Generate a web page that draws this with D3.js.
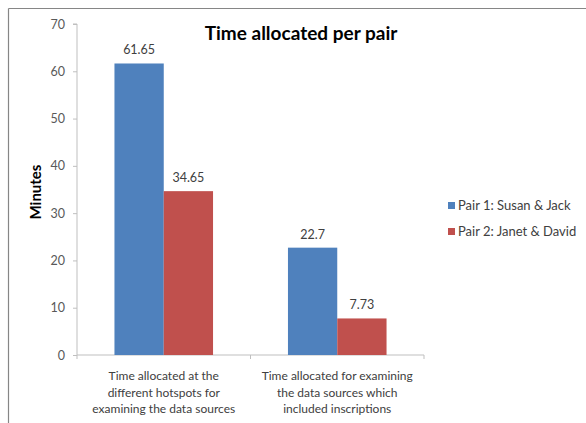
<!DOCTYPE html>
<html><head><meta charset="utf-8">
<script src="https://cdn.jsdelivr.net/npm/d3@7"></script>
<style>
body{margin:0;background:#fff;}
text{font-family:Lato,"Open Sans",sans-serif;}
</style></head>
<body><svg id="c" width="586" height="423"></svg>
<script>
const categories = [
  ["Time allocated at the","different hotspots for","examining the data sources"],
  ["Time allocated for examining","the data sources which","included inscriptions"]
];
const seriesNames = ["Pair 1: Susan & Jack","Pair 2: Janet & David"];
const pair1 = [61.65, 22.7];
const pair2 = [34.65, 7.73];
const yTicks = [0,10,20,30,40,50,60,70];
const colors = ["#4f81bd","#c0504d"];

const svg = d3.select("#c");
// frame
svg.append("line").attr("x1",8.5).attr("x2",586).attr("y1",8.5).attr("y2",8.5).attr("stroke","#868686").attr("stroke-width",1.2);
svg.append("line").attr("x1",8.5).attr("x2",8.5).attr("y1",8.5).attr("y2",423).attr("stroke","#868686").attr("stroke-width",1.2);

const x0 = 77, x1 = 424, yb = 355, yt = 24;
const y = d3.scaleLinear().domain([0,70]).range([yb,yt]);
const xc = d3.scaleBand().domain(d3.range(categories.length)).range([x0,x1]).paddingInner(0).paddingOuter(0);
const xs = d3.scaleBand().domain([0,1]).range([0,xc.bandwidth()]).paddingInner(0).paddingOuter(0.76);

// y axis
const ya = svg.append("g").attr("transform",`translate(${x0},0)`)
  .call(d3.axisLeft(y).tickValues(yTicks).tickSize(4).tickPadding(8).tickFormat(d3.format("d")));
ya.select(".domain").attr("stroke","#bfbfbf").attr("d",`M-4,${yt}H0V${yb}`);
ya.selectAll(".tick line").attr("stroke","#bfbfbf");
ya.selectAll(".tick text").attr("fill","#595959").style("font-size","12.5px").style("font-family","Lato,sans-serif");

// x axis
const xa = svg.append("g").attr("transform",`translate(0,${yb})`);
xa.append("path").attr("d",`M${x0},0H${x1}`).attr("stroke","#bfbfbf").attr("fill","none");
const bounds = [x0, x0+xc.bandwidth(), x1];
xa.selectAll("line.t").data(bounds).join("line").attr("x1",d=>d).attr("x2",d=>d).attr("y1",0).attr("y2",4).attr("stroke","#bfbfbf");

// bars
const data = [pair1, pair2];
data.forEach((vals,si)=>{
  const g = svg.append("g");
  g.selectAll("rect").data(vals).join("rect")
    .attr("x",(d,i)=>xc(i)+xs(si)).attr("width",xs.bandwidth())
    .attr("y",d=>y(d)).attr("height",d=>yb-y(d)).attr("fill",colors[si]);
  g.selectAll("text").data(vals).join("text")
    .attr("x",(d,i)=>xc(i)+xs(si)+xs.bandwidth()/2).attr("y",d=>y(d)-9)
    .attr("text-anchor","middle").attr("fill","#404040").style("font-size","12.5px")
    .text(d=>String(d));
});

// category labels
categories.forEach((lines,i)=>{
  const t = svg.append("text").attr("text-anchor","middle").attr("fill","#404040").style("font-size","12px");
  lines.forEach((l,k)=>t.append("tspan").attr("x",xc(i)+xc.bandwidth()/2).attr("y",380+k*16.5).text(l));
});

// title
svg.append("text").attr("x",301).attr("y",40).attr("text-anchor","middle").style("font-size","19px").style("font-weight","bold").attr("fill","#000").text("Time allocated per pair");

// y title
svg.append("text").attr("transform","translate(41,192) rotate(-90)").attr("text-anchor","middle").style("font-size","15px").style("font-weight","bold").attr("fill","#000").text("Minutes");

// legend
seriesNames.forEach((n,i)=>{
  svg.append("rect").attr("x",448).attr("y",202+i*26).attr("width",7).attr("height",7).attr("fill",colors[i]);
  svg.append("text").attr("x",458).attr("y",210+i*26).attr("fill","#404040").style("font-size","13px").text(n);
});
</script></body></html>
